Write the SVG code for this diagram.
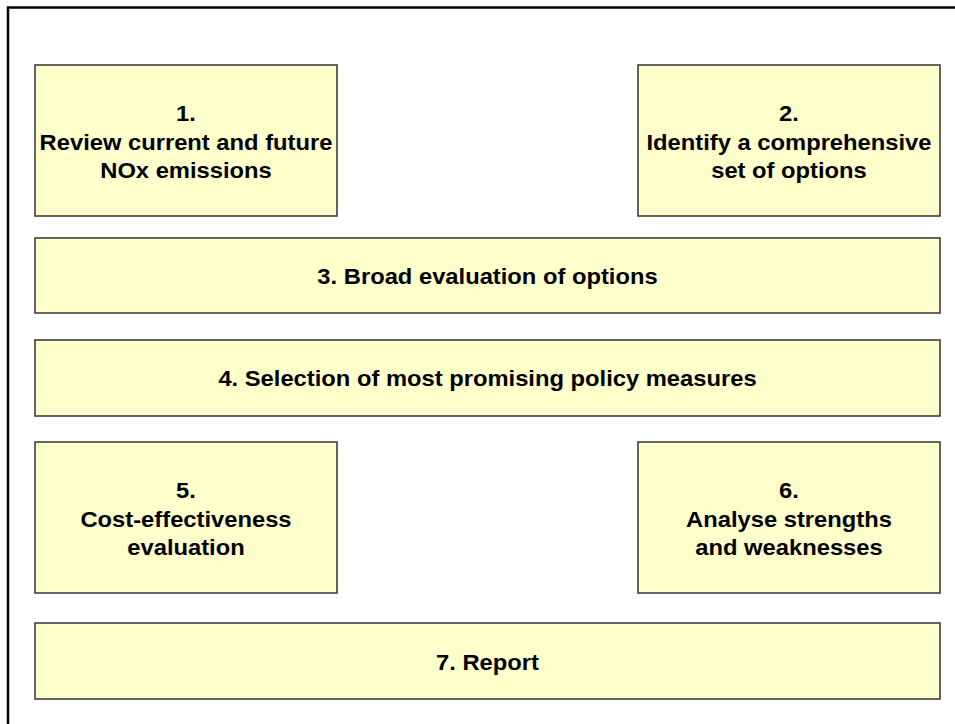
<svg xmlns="http://www.w3.org/2000/svg" width="955" height="724" viewBox="0 0 955 724">
  <style>
    .box { fill: #FFFFCC; stroke: #333333; stroke-width: 1.5; }
    .label { font-family: "Liberation Sans", Arial, sans-serif; font-weight: bold; font-size: 22px; fill: #000000; text-anchor: middle; }
  </style>
  <rect width="955" height="724" fill="#FFFFFF"/>
  <!-- page frame: top and left edges only -->
  <path d="M8 724 V7.5 H955" fill="none" stroke="#000000" stroke-width="2.5"/>

  <g id="step1">
    <rect class="box" x="35" y="65" width="302" height="151"/>
    <g transform="translate(186 0) scale(1.08 1)">
      <text class="label" x="0" y="121">1.</text>
      <text class="label" x="0" y="150">Review current and future</text>
      <text class="label" x="0" y="178">NOx emissions</text>
    </g>
  </g>
  <g id="step2">
    <rect class="box" x="638" y="65" width="302" height="151"/>
    <g transform="translate(789 0) scale(1.08 1)">
      <text class="label" x="0" y="121">2.</text>
      <text class="label" x="0" y="150">Identify a comprehensive</text>
      <text class="label" x="0" y="178">set of options</text>
    </g>
  </g>
  <g id="step3">
    <rect class="box" x="35" y="238" width="905" height="75"/>
    <g transform="translate(487.5 0) scale(1.08 1)">
      <text class="label" x="0" y="284">3. Broad evaluation of options</text>
    </g>
  </g>
  <g id="step4">
    <rect class="box" x="35" y="340" width="905" height="76"/>
    <g transform="translate(487.5 0) scale(1.08 1)">
      <text class="label" x="0" y="386">4. Selection of most promising policy measures</text>
    </g>
  </g>
  <g id="step5">
    <rect class="box" x="35" y="442" width="302" height="151"/>
    <g transform="translate(186 0) scale(1.08 1)">
      <text class="label" x="0" y="498">5.</text>
      <text class="label" x="0" y="527">Cost-effectiveness</text>
      <text class="label" x="0" y="555">evaluation</text>
    </g>
  </g>
  <g id="step6">
    <rect class="box" x="638" y="442" width="302" height="151"/>
    <g transform="translate(789 0) scale(1.08 1)">
      <text class="label" x="0" y="498">6.</text>
      <text class="label" x="0" y="527">Analyse strengths</text>
      <text class="label" x="0" y="555">and weaknesses</text>
    </g>
  </g>
  <g id="step7">
    <rect class="box" x="35" y="623" width="905" height="76"/>
    <g transform="translate(487.5 0) scale(1.08 1)">
      <text class="label" x="0" y="670">7. Report</text>
    </g>
  </g>
  <g id="connectors"></g>
</svg>
